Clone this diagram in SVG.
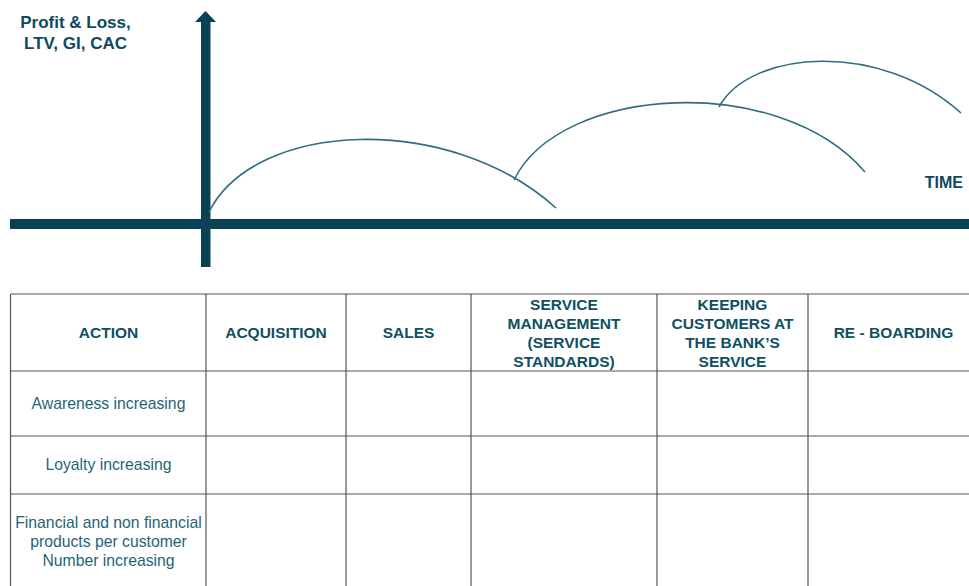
<svg xmlns="http://www.w3.org/2000/svg" width="969" height="586" viewBox="0 0 969 586">
<style>
.axis{fill:#0a4155}
.curve{fill:none;stroke:#2f6d80;stroke-width:1.6}
.lbl{font-family:"Liberation Sans",Arial,sans-serif;font-weight:bold;fill:#0d4a5e}
.hdr{font-family:"Liberation Sans",Arial,sans-serif;font-weight:bold;font-size:15.5px;fill:#0e5062;text-anchor:middle}
.body{font-family:"Liberation Sans",Arial,sans-serif;font-size:15.75px;fill:#1f6477;text-anchor:middle}
.grid{stroke:#555;stroke-width:1.2;fill:none}
</style>
<rect width="969" height="586" fill="#fff"/>
<g id="axes">
<rect class="axis" x="10" y="219" width="959" height="10"/>
<rect class="axis" x="201" y="21" width="9.5" height="246"/>
<polygon class="axis" points="195,22 205.5,11 216,22"/>
</g>
<g id="y-label">
<text class="lbl" font-size="17" text-anchor="middle" x="75.5" y="28">Profit &amp; Loss,</text>
<text class="lbl" font-size="17" text-anchor="middle" x="75.5" y="49">LTV, GI, CAC</text>
</g>
<g id="x-label">
<text class="lbl" font-size="16" text-anchor="end" x="963" y="188">TIME</text>
</g>
<g id="connectors">
<path class="curve" d="M209,212 C255,120 450,112 556,208"/>
<path class="curve" d="M514,180 C560,85 780,72 865,172"/>
<path class="curve" d="M719,107 C750,50 880,40 961,113"/>
</g>
<g id="table">
<path class="grid" d="M10.5,294 H969 M10.5,371 H969 M10.5,436 H969 M10.5,494 H969 M10.5,294 V586 M206,294 V586 M346,294 V586 M471,294 V586 M657,294 V586 M808,294 V586"/>
</g>
<g id="header">
<text class="hdr" x="108.5" y="338">ACTION</text>
<text class="hdr" x="276" y="338">ACQUISITION</text>
<text class="hdr" x="408.5" y="338">SALES</text>
<text class="hdr" x="564" y="310">SERVICE</text>
<text class="hdr" x="564" y="329">MANAGEMENT</text>
<text class="hdr" x="564" y="348">(SERVICE</text>
<text class="hdr" x="564" y="367">STANDARDS)</text>
<text class="hdr" x="732.5" y="310">KEEPING</text>
<text class="hdr" x="732.5" y="329">CUSTOMERS AT</text>
<text class="hdr" x="732.5" y="348">THE BANK’S</text>
<text class="hdr" x="732.5" y="367">SERVICE</text>
<text class="hdr" x="893.5" y="338">RE - BOARDING</text>
</g>
<g id="rows">
<text class="body" x="108.5" y="409">Awareness increasing</text>
<text class="body" x="108.5" y="470">Loyalty increasing</text>
<text class="body" x="108.5" y="528">Financial and non financial</text>
<text class="body" x="108.5" y="547">products per customer</text>
<text class="body" x="108.5" y="566">Number increasing</text>
</g>
</svg>
